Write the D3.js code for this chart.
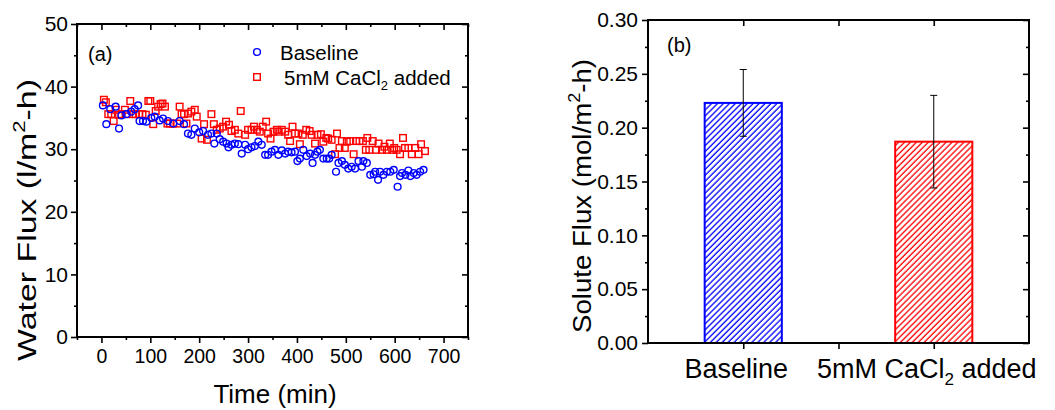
<!DOCTYPE html>
<html><head><meta charset="utf-8">
<script src="https://cdn.jsdelivr.net/npm/d3@7"></script>
<style>
body{margin:0;background:#fff}
text{font-family:"Liberation Sans",Arial,sans-serif;fill:#000}
</style></head>
<body><svg id="c" width="1055" height="410"></svg>
<script>
// ---------- data: panel (a) ----------
const baselineTime = [3,10,18,29,36,41,51,61,68,75,78,85,92,102,109,119,126,136,147,160,169,177,184,191,200,208,218,225,231,236,242,249,256,260,266,273,280,287,294,300,307,314,321,328,335,341,348,355,362,369,376,382,389,396,401,406,413,420,427,432,437,442,447,454,461,466,471,480,485,492,498,505,512,519,526,533,536,543,550,557,560,566,570,577,584,591,598,606,611,615,622,628,632,639,645,652,659];
const baselineFlux = [37.0,34.0,36.4,36.8,33.3,35.4,35.6,36.0,36.4,37.0,34.5,34.5,34.4,35.0,35.2,34.6,34.9,34.5,34.1,34.5,34.0,32.5,32.3,33.3,32.7,32.9,32.3,32.5,30.9,32.5,31.6,31.2,30.9,30.3,30.7,30.9,30.8,29.3,30.7,30.0,30.3,30.5,31.2,30.7,29.1,29.1,29.6,29.9,29.1,29.8,29.3,29.6,29.5,29.6,28.1,28.5,29.9,28.9,29.3,27.8,29.1,29.6,29.9,28.5,28.5,28.5,29.1,26.4,27.8,28.1,27.5,26.9,27.2,26.9,28.1,27.2,28.1,27.8,25.9,26.0,26.4,25.1,26.4,25.9,26.4,26.4,26.7,24.0,25.7,26.2,25.9,26.6,25.7,26.2,25.9,26.4,26.7];
const cacl2Time = [5,9,14,20,25,29,36,41,48,51,59,65,70,77,84,91,96,100,106,111,116,121,125,130,135,140,147,155,160,164,169,174,177,184,191,195,205,210,216,225,230,236,242,249,255,261,266,273,280,285,294,300,307,312,318,324,330,337,341,346,352,359,362,369,376,382,386,391,396,403,406,412,419,426,430,437,442,449,454,460,464,471,478,482,487,492,498,502,509,516,521,528,535,541,544,548,555,562,567,574,579,584,590,595,599,604,611,617,621,628,635,642,649,654,662];
const cacl2Flux = [37.9,37.5,35.6,35.6,34.5,36.3,35.5,35.6,36.3,35.6,37.7,35.6,35.6,35.6,35.6,35.5,37.7,37.7,34.0,36.1,36.8,37.2,37.3,36.8,34.1,34.1,34.1,34.1,36.8,35.6,35.6,34.1,35.7,36.0,36.3,35.2,31.7,34.0,31.5,35.6,34.0,33.1,33.3,33.6,34.4,33.9,32.9,33.1,32.5,36.1,32.3,33.1,33.1,33.6,33.1,32.8,33.6,34.4,32.5,31.7,32.8,33.1,32.8,33.1,32.8,32.3,31.3,33.6,32.5,32.5,30.8,32.3,33.1,32.9,32.3,30.9,32.3,32.4,31.2,31.8,31.7,31.5,29.2,32.5,30.2,31.3,30.2,31.2,31.3,29.2,31.3,31.3,31.3,29.9,31.8,29.9,31.3,29.9,30.9,29.9,30.4,29.9,30.9,29.9,30.2,29.9,29.2,31.8,30.2,30.2,29.2,30.2,29.2,30.8,29.7];
const timeTicks = [0,100,200,300,400,500,600,700];
const waterFluxTicks = [0,10,20,30,40,50];

// ---------- data: panel (b) ----------
const barCategories = ["Baseline","5mM CaCl2 added"];
const soluteFlux = [0.223, 0.187];
const soluteErr = [0.031, 0.043];
const soluteTicks = [0,0.05,0.10,0.15,0.20,0.25,0.30];

const svg = d3.select("#c");
const BLUE = "#0000ff", RED = "#ff0000";

function styleAxis(g, fs){
  g.select(".domain").remove();
  g.selectAll(".tick line").attr("stroke","#000").attr("stroke-width",1.6);
  g.selectAll(".tick text").attr("font-size",fs).attr("font-family",'"Liberation Sans",Arial,sans-serif').attr("fill","#000");
}

// =============== Panel (a) ===============
const xA = d3.scaleLinear().domain([-50,750]).range([77,468]);
const yA = d3.scaleLinear().domain([0,50]).range([337,24]);
const minorX = d3.range(-50,751,50).filter(v=>v%100!==0);
const minorY = d3.range(5,50,10);

svg.append("g").attr("transform","translate(0,337)").call(d3.axisBottom(xA).tickValues(timeTicks).tickSize(6).tickSizeOuter(0).tickPadding(6)).call(g=>styleAxis(g,19.5));
svg.append("g").attr("transform","translate(0,337)").call(d3.axisBottom(xA).tickValues(minorX).tickSize(3).tickFormat("")).call(g=>styleAxis(g,19));
svg.append("g").attr("transform","translate(0,24)").call(d3.axisTop(xA).tickValues(timeTicks).tickSize(-6).tickFormat("")).call(g=>styleAxis(g,19));
svg.append("g").attr("transform","translate(0,24)").call(d3.axisTop(xA).tickValues(minorX).tickSize(-3).tickFormat("")).call(g=>styleAxis(g,19));
svg.append("g").attr("transform","translate(77,0)").call(d3.axisLeft(yA).tickValues(waterFluxTicks).tickSize(6).tickPadding(3).tickFormat(d3.format("d"))).call(g=>styleAxis(g,21));
svg.append("g").attr("transform","translate(77,0)").call(d3.axisLeft(yA).tickValues(minorY).tickSize(3).tickFormat("")).call(g=>styleAxis(g,19));
svg.append("g").attr("transform","translate(468,0)").call(d3.axisRight(yA).tickValues(waterFluxTicks).tickSize(-6).tickFormat("")).call(g=>styleAxis(g,19));
svg.append("g").attr("transform","translate(468,0)").call(d3.axisRight(yA).tickValues(minorY).tickSize(-3).tickFormat("")).call(g=>styleAxis(g,19));

svg.append("rect").attr("x",xA.range()[0]).attr("y",yA.range()[1]).attr("width",xA.range()[1]-xA.range()[0]).attr("height",yA.range()[0]-yA.range()[1])
  .attr("fill","none").attr("stroke","#000").attr("stroke-width",2);

const baseData = baselineTime.map((t,i)=>({t, v: baselineFlux[i]}));
const caData = cacl2Time.map((t,i)=>({t, v: cacl2Flux[i]}));
svg.append("g").selectAll("rect").data(caData).join("rect")
  .attr("x",d=>xA(d.t)-3.3).attr("y",d=>yA(d.v)-3.3).attr("width",6.6).attr("height",6.6)
  .attr("fill","none").attr("stroke",RED).attr("stroke-width",1.4);
svg.append("g").selectAll("circle").data(baseData).join("circle")
  .attr("cx",d=>xA(d.t)).attr("cy",d=>yA(d.v)).attr("r",3.4)
  .attr("fill","none").attr("stroke",BLUE).attr("stroke-width",1.4);

// legend
svg.append("circle").attr("cx",257).attr("cy",52).attr("r",3.4).attr("fill","none").attr("stroke",BLUE).attr("stroke-width",1.4);
svg.append("text").attr("x",280).attr("y",59.5).attr("font-size",20.5).text("Baseline");
svg.append("rect").attr("x",257-3.3).attr("y",77-3.3).attr("width",6.6).attr("height",6.6).attr("fill","none").attr("stroke",RED).attr("stroke-width",1.4);
const lg = svg.append("text").attr("x",284).attr("y",84.5).attr("font-size",20.5);
lg.append("tspan").text("5mM CaCl");
lg.append("tspan").attr("font-size",13).attr("dy",5).text("2");
lg.append("tspan").attr("dy",-5).text(" added");

svg.append("text").attr("x",88).attr("y",61).attr("font-size",20).text("(a)");

svg.append("text").attr("x",275).attr("y",403).attr("text-anchor","middle").attr("font-size",26).text("Time (min)");
const ytA = svg.append("text").attr("transform","translate(36,220) rotate(-90)").attr("text-anchor","middle").attr("font-size",26)
  .attr("textLength",282).attr("lengthAdjust","spacingAndGlyphs");
ytA.append("tspan").text("Water Flux (l/m");
ytA.append("tspan").attr("font-size",17).attr("dy",-11).text("2");
ytA.append("tspan").attr("dy",11).text("-h)");

// =============== Panel (b) ===============
const xB = d3.scaleLinear().domain([0.5,2.5]).range([648,1029]);
const yB = d3.scaleLinear().domain([0,0.30]).range([343,20]);
const catPos = [1,2];
const barW = 0.405;
const minorYB = d3.range(0.025,0.3,0.05);

const defs = svg.append("defs");
[["hatchBlue",BLUE],["hatchRed",RED]].forEach(([id,c])=>{
  const p = defs.append("pattern").attr("id",id).attr("patternUnits","userSpaceOnUse")
    .attr("width",4.2).attr("height",10).attr("patternTransform","rotate(45)");
  p.append("rect").attr("width",4.2).attr("height",10).attr("fill","#fff");
  p.append("line").attr("x1",1).attr("y1",0).attr("x2",1).attr("y2",10).attr("stroke",c).attr("stroke-width",1.3);
});

svg.append("g").selectAll("rect").data(soluteFlux).join("rect")
  .attr("x",(d,i)=>xB(catPos[i]-barW/2)).attr("y",d=>yB(d))
  .attr("width",(d,i)=>xB(catPos[i]+barW/2)-xB(catPos[i]-barW/2)).attr("height",d=>yB(0)-yB(d))
  .attr("fill",(d,i)=>i===0?"url(#hatchBlue)":"url(#hatchRed)")
  .attr("stroke",(d,i)=>i===0?BLUE:RED).attr("stroke-width",2);

const eb = svg.append("g");
soluteFlux.forEach((v,i)=>{
  const x = xB(catPos[i]);
  eb.append("line").attr("x1",x).attr("x2",x).attr("y1",yB(v+soluteErr[i])).attr("y2",yB(v-soluteErr[i])).attr("stroke","#000").attr("stroke-width",1);
  [v+soluteErr[i], v-soluteErr[i]].forEach(e=>{
    eb.append("line").attr("x1",x-3.5).attr("x2",x+3.5).attr("y1",yB(e)).attr("y2",yB(e)).attr("stroke","#000").attr("stroke-width",1);
  });
});

svg.append("g").attr("transform","translate(0,343)").call(d3.axisBottom(xB).tickValues([1,1.5,2]).tickSize(6).tickFormat("")).call(g=>styleAxis(g,19));
svg.append("g").attr("transform","translate(0,20)").call(d3.axisTop(xB).tickValues([1,1.5,2]).tickSize(-6).tickFormat("")).call(g=>styleAxis(g,19));
svg.append("g").attr("transform","translate(648,0)").call(d3.axisLeft(yB).tickValues(soluteTicks).tickSize(6).tickPadding(4).tickFormat(d3.format(".2f"))).call(g=>styleAxis(g,21));
svg.append("g").attr("transform","translate(648,0)").call(d3.axisLeft(yB).tickValues(minorYB).tickSize(3).tickFormat("")).call(g=>styleAxis(g,19));
svg.append("g").attr("transform","translate(1029,0)").call(d3.axisRight(yB).tickValues(soluteTicks).tickSize(-6).tickFormat("")).call(g=>styleAxis(g,19));
svg.append("g").attr("transform","translate(1029,0)").call(d3.axisRight(yB).tickValues(minorYB).tickSize(-3).tickFormat("")).call(g=>styleAxis(g,19));

svg.append("rect").attr("x",648).attr("y",20).attr("width",1029-648).attr("height",343-20)
  .attr("fill","none").attr("stroke","#000").attr("stroke-width",2);

svg.append("text").attr("x",xB(catPos[0])-7).attr("y",378).attr("text-anchor","middle").attr("font-size",27).text(barCategories[0]);
const c2 = svg.append("text").attr("x",xB(catPos[1])-7).attr("y",378).attr("text-anchor","middle").attr("font-size",27);
c2.append("tspan").text("5mM CaCl");
c2.append("tspan").attr("font-size",17).attr("dy",7).text("2");
c2.append("tspan").attr("dy",-7).text(" added");

svg.append("text").attr("x",667).attr("y",52).attr("font-size",20).text("(b)");

const ytB = svg.append("text").attr("transform","translate(591,196) rotate(-90)").attr("text-anchor","middle").attr("font-size",26)
  .attr("textLength",274).attr("lengthAdjust","spacingAndGlyphs");
ytB.append("tspan").text("Solute Flux (mol/m");
ytB.append("tspan").attr("font-size",17).attr("dy",-11).text("2");
ytB.append("tspan").attr("dy",11).text("-h)");
</script>
</body></html>
